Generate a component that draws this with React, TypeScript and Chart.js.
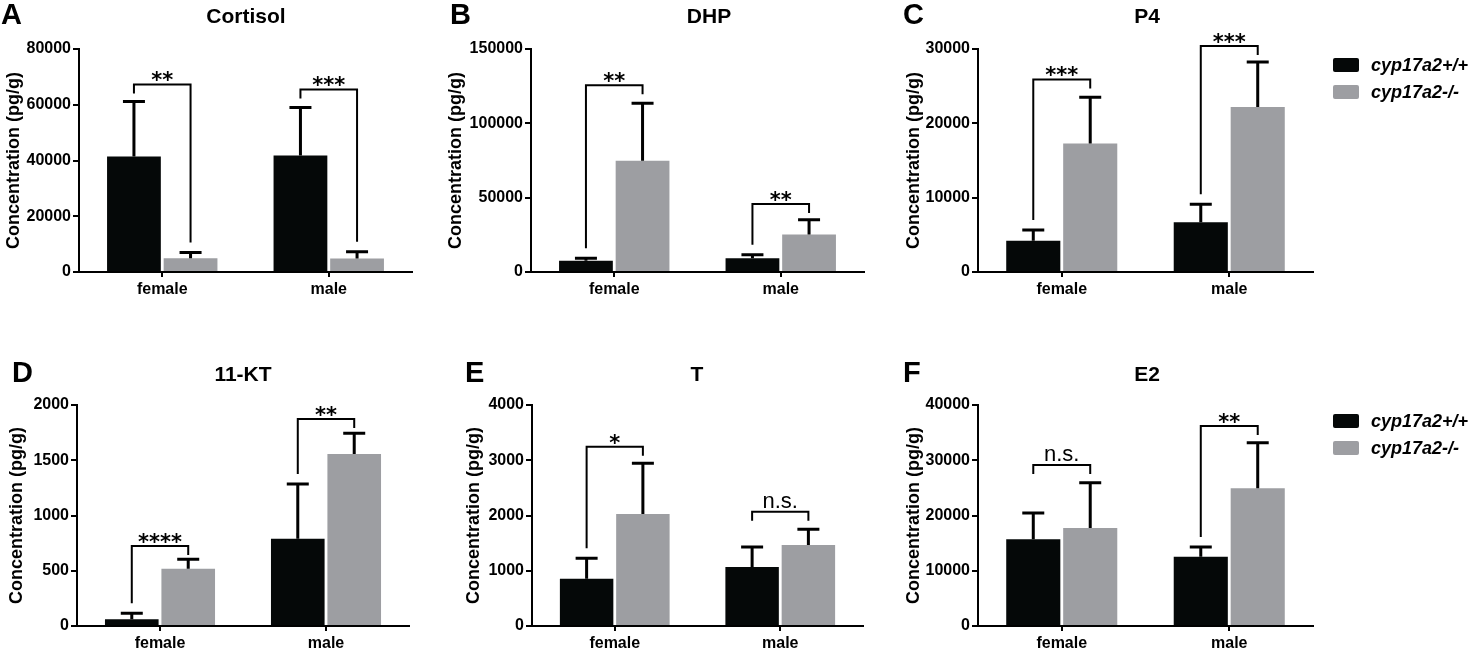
import { useEffect, useRef } from 'react'
import { Chart, registerables } from 'chart.js'

Chart.register(...registerables)

const groups = ['female', 'male']
const genotypes = ['cyp17a2+/+', 'cyp17a2-/-']

// Cortisol
const cortisolWT = [41400, 41800]
const cortisolWTsd = [19800, 17200]
const cortisolKO = [4900, 4800]
const cortisolKOsd = [2100, 2500]
const cortisolBracket = [67300, 65500]
const cortisolSig = ['**', '***']
const cortisolTicks = [0, 20000, 40000, 60000, 80000]

// DHP
const dhpWT = [7600, 9300]
const dhpWTsd = [1600, 2300]
const dhpKO = [74900, 25300]
const dhpKOsd = [38600, 9900]
const dhpBracket = [125600, 45800]
const dhpSig = ['**', '**']
const dhpTicks = [0, 50000, 100000, 150000]

// P4
const p4WT = [4200, 6700]
const p4WTsd = [1450, 2400]
const p4KO = [17300, 22200]
const p4KOsd = [6200, 6050]
const p4Bracket = [25900, 30400]
const p4Sig = ['***', '***']
const p4Ticks = [0, 10000, 20000, 30000]

// 11-KT
const ktWT = [60, 790]
const ktWTsd = [55, 495]
const ktKO = [519, 1557]
const ktKOsd = [84, 187]
const ktBracket = [724, 1873]
const ktSig = ['****', '**']
const ktTicks = [0, 500, 1000, 1500, 2000]

// T
const tWT = [857, 1068]
const tWTsd = [368, 362]
const tKO = [2027, 1466]
const tKOsd = [917, 284]
const tBracket = [3246, 2069]
const tSig = ['*', 'n.s.']
const tTicks = [0, 1000, 2000, 3000, 4000]

// E2
const e2WT = [15690, 12550]
const e2WTsd = [4760, 1750]
const e2KO = [17740, 24920]
const e2KOsd = [8200, 8260]
const e2Bracket = [29140, 36200]
const e2Sig = ['n.s.', '**']
const e2Ticks = [0, 10000, 20000, 30000, 40000]

const BLACK = '#050808'
const GREY = '#9d9ea2'
const FONT = '"Liberation Sans", Arial, sans-serif'
const X_AXIS_H = 24

type Panel = {
  letter: string
  title: string
  wt: number[]
  wtSd: number[]
  ko: number[]
  koSd: number[]
  bracket: number[]
  sig: string[]
  ticks: number[]
  legend: boolean
}

type Frame = {
  left: number
  top: number
  width: number
  height: number
  plotLeft: number
  plotRight: number
  plotTop: number
  plotBottom: number
  letterX: number
  letterY: number
  titleX: number
  titleY: number
  labelX: number
}

const panels: Panel[] = [
  { letter: 'A', title: 'Cortisol', wt: cortisolWT, wtSd: cortisolWTsd, ko: cortisolKO, koSd: cortisolKOsd, bracket: cortisolBracket, sig: cortisolSig, ticks: cortisolTicks, legend: false },
  { letter: 'B', title: 'DHP', wt: dhpWT, wtSd: dhpWTsd, ko: dhpKO, koSd: dhpKOsd, bracket: dhpBracket, sig: dhpSig, ticks: dhpTicks, legend: false },
  { letter: 'C', title: 'P4', wt: p4WT, wtSd: p4WTsd, ko: p4KO, koSd: p4KOsd, bracket: p4Bracket, sig: p4Sig, ticks: p4Ticks, legend: true },
  { letter: 'D', title: '11-KT', wt: ktWT, wtSd: ktWTsd, ko: ktKO, koSd: ktKOsd, bracket: ktBracket, sig: ktSig, ticks: ktTicks, legend: false },
  { letter: 'E', title: 'T', wt: tWT, wtSd: tWTsd, ko: tKO, koSd: tKOsd, bracket: tBracket, sig: tSig, ticks: tTicks, legend: false },
  { letter: 'F', title: 'E2', wt: e2WT, wtSd: e2WTsd, ko: e2KO, koSd: e2KOsd, bracket: e2Bracket, sig: e2Sig, ticks: e2Ticks, legend: true },
]

const frames: Frame[] = [
  { left: 0, top: 0, width: 440, height: 326, plotLeft: 79, plotRight: 412, plotTop: 49, plotBottom: 272, letterX: 1, letterY: 24, titleX: 246, titleY: 23, labelX: 14 },
  { left: 440, top: 0, width: 455, height: 326, plotLeft: 531, plotRight: 864, plotTop: 49, plotBottom: 272, letterX: 450, letterY: 24, titleX: 709, titleY: 23, labelX: 456 },
  { left: 895, top: 0, width: 574, height: 326, plotLeft: 978, plotRight: 1313, plotTop: 49, plotBottom: 272, letterX: 903, letterY: 24, titleX: 1147, titleY: 23, labelX: 914 },
  { left: 0, top: 326, width: 440, height: 327, plotLeft: 77, plotRight: 409, plotTop: 405, plotBottom: 626, letterX: 12, letterY: 382, titleX: 243, titleY: 381, labelX: 17 },
  { left: 440, top: 326, width: 455, height: 327, plotLeft: 532, plotRight: 863, plotTop: 405, plotBottom: 626, letterX: 465, letterY: 382, titleX: 697, titleY: 381, labelX: 474 },
  { left: 895, top: 326, width: 574, height: 327, plotLeft: 978, plotRight: 1313, plotTop: 405, plotBottom: 626, letterX: 903, letterY: 382, titleX: 1147, titleY: 381, labelX: 914 },
]

function PanelChart({ panel, frame }: { panel: Panel; frame: Frame }) {
  const chartRef = useRef<HTMLCanvasElement>(null)

  useEffect(() => {
    if (!chartRef.current) return
    const ox = frame.left
    const oy = frame.top

    // draws error bars, brackets, titles, axis label and legend
    const decor = {
      id: 'decor',
      afterDraw(chart: Chart) {
        const ctx = chart.ctx
        const y = chart.scales.y
        const area = chart.chartArea
        const means = [panel.wt, panel.ko]
        const sds = [panel.wtSd, panel.koSd]
        const tops: number[][] = [[], []]
        const xs: number[][] = [[], []]
        ctx.save()
        ctx.strokeStyle = '#000'
        ctx.fillStyle = '#000'

        for (let d = 0; d < 2; d++) {
          const meta = chart.getDatasetMeta(d)
          meta.data.forEach((bar: any, j: number) => {
            const top = y.getPixelForValue(means[d][j] + sds[d][j])
            tops[d][j] = top
            xs[d][j] = bar.x
            ctx.lineWidth = 3
            ctx.beginPath()
            ctx.moveTo(bar.x, bar.y)
            ctx.lineTo(bar.x, top)
            ctx.moveTo(bar.x - 11, top)
            ctx.lineTo(bar.x + 11, top)
            ctx.stroke()
          })
        }

        // significance brackets
        panel.bracket.forEach((val, j) => {
          const by = y.getPixelForValue(val)
          const lx = xs[0][j]
          const rx = xs[1][j]
          const ns = panel.sig[j] === 'n.s.'
          const lEnd = ns ? by + 9 : Math.max(by + 9, tops[0][j] - 10)
          const rEnd = ns ? by + 9 : Math.max(by + 9, tops[1][j] - 10)
          ctx.lineWidth = 2
          ctx.beginPath()
          ctx.moveTo(lx, lEnd)
          ctx.lineTo(lx, by)
          ctx.lineTo(rx, by)
          ctx.lineTo(rx, rEnd)
          ctx.stroke()
          ctx.textAlign = 'center'
          ctx.textBaseline = 'alphabetic'
          const mx = (lx + rx) / 2
          if (ns) {
            ctx.font = `22px ${FONT}`
            ctx.fillText('n.s.', mx, by - 4)
          } else {
            ctx.font = 'bold 21px "DejaVu Sans", sans-serif'
            const m = ctx.measureText('*')
            ctx.fillText(panel.sig[j], mx, by - 3 - m.actualBoundingBoxDescent)
          }
        })

        // panel letter and title
        ctx.textBaseline = 'alphabetic'
        ctx.textAlign = 'left'
        ctx.font = `bold 29px ${FONT}`
        ctx.fillText(panel.letter, frame.letterX - ox, frame.letterY - oy)
        ctx.textAlign = 'center'
        ctx.font = `bold 21px ${FONT}`
        ctx.fillText(panel.title, frame.titleX - ox, frame.titleY - oy)

        // y axis title
        ctx.save()
        ctx.translate(frame.labelX - ox, (area.top + area.bottom) / 2)
        ctx.rotate(-Math.PI / 2)
        ctx.font = `bold 18px ${FONT}`
        ctx.textBaseline = 'middle'
        ctx.fillText('Concentration (pg/g)', 0, 0)
        ctx.restore()

        if (panel.legend) {
          genotypes.forEach((g, i) => {
            const bx = 1333 - ox
            const byy = frame.plotTop + 9 + i * 27 - oy
            ctx.fillStyle = i === 0 ? BLACK : GREY
            ctx.beginPath()
            ctx.roundRect(bx, byy, 26, 14, 2)
            ctx.fill()
            ctx.fillStyle = '#000'
            ctx.textAlign = 'left'
            ctx.textBaseline = 'middle'
            ctx.font = `italic bold 18px ${FONT}`
            ctx.fillText(g, 1371 - ox, byy + 8)
          })
        }
        ctx.restore()
      },
    }

    const chart = new Chart(chartRef.current, {
      type: 'bar',
      data: {
        labels: groups,
        datasets: [
          { label: genotypes[0], data: panel.wt, backgroundColor: BLACK, categoryPercentage: 0.68, barPercentage: 0.95 },
          { label: genotypes[1], data: panel.ko, backgroundColor: GREY, categoryPercentage: 0.68, barPercentage: 0.95 },
        ],
      },
      options: {
        animation: false,
        responsive: true,
        maintainAspectRatio: false,
        layout: {
          padding: {
            left: 0,
            top: frame.plotTop - frame.top,
            right: frame.left + frame.width - frame.plotRight,
            bottom: frame.top + frame.height - frame.plotBottom - X_AXIS_H,
          },
        },
        plugins: {
          legend: { display: false },
          tooltip: { enabled: false },
        },
        scales: {
          x: {
            offset: true,
            grid: { drawOnChartArea: false, drawTicks: true, tickLength: 5, offset: false, color: '#000', lineWidth: 2 },
            border: { display: true, color: '#000', width: 2 },
            ticks: { color: '#000', font: { family: FONT, size: 16, weight: 'bold' }, padding: 3 },
            afterFit: (s: any) => { s.height = X_AXIS_H },
          },
          y: {
            min: panel.ticks[0],
            max: panel.ticks[panel.ticks.length - 1],
            grid: { drawOnChartArea: false, drawTicks: true, tickLength: 6, color: '#000', lineWidth: 2 },
            border: { display: true, color: '#000', width: 2 },
            ticks: {
              color: '#000',
              font: { family: FONT, size: 16, weight: 'bold' },
              padding: 2,
              callback: (v: any) => String(v),
            },
            afterBuildTicks: (s: any) => { s.ticks = panel.ticks.map(v => ({ value: v })) },
            afterFit: (s: any) => { s.width = frame.plotLeft - frame.left },
          },
        },
      },
      plugins: [decor],
    } as any)

    return () => chart.destroy()
  }, [panel, frame])

  return (
    <div style={{ position: 'absolute', left: frame.left, top: frame.top, width: frame.width, height: frame.height }}>
      <canvas ref={chartRef}></canvas>
    </div>
  )
}

export default function App() {
  return (
    <div style={{ position: 'absolute', left: 0, top: 0, width: 1469, height: 653, background: '#fff', overflow: 'hidden' }}>
      {panels.map((p, i) => (
        <PanelChart key={p.letter} panel={p} frame={frames[i]} />
      ))}
    </div>
  )
}
